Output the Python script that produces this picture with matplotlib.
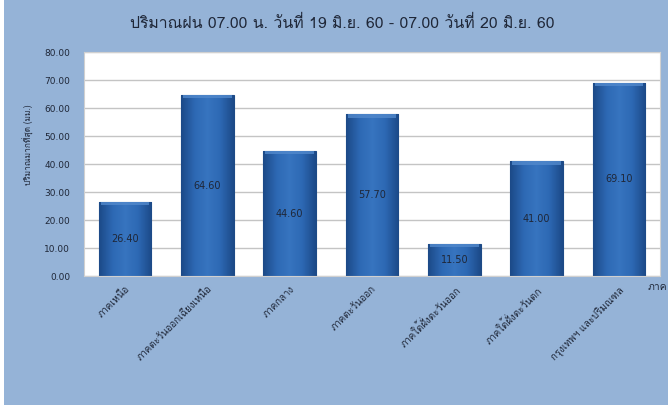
import numpy as np
import matplotlib
matplotlib.use("Agg")
import matplotlib.pyplot as plt
from matplotlib import font_manager
from matplotlib.colors import LinearSegmentedColormap
from fontTools.ttLib import TTFont

# ข้อมูลปริมาณฝนสูงสุดรายภาค
regions = ["ภาคเหนือ", "ภาคตะวันออกเฉียงเหนือ", "ภาคกลาง", "ภาคตะวันออก",
           "ภาคใต้ฝั่งตะวันออก", "ภาคใต้ฝั่งตะวันตก", "กรุงเทพฯ และปริมณฑล"]
rain_mm = [26.40, 64.60, 44.60, 57.70, 11.50, 41.00, 69.10]
y_ticks = [0, 10, 20, 30, 40, 50, 60, 70, 80]

title = "ปริมาณฝน 07.00 น. วันที่ 19 มิ.ย. 60 - 07.00 วันที่ 20 มิ.ย. 60"
y_label = "ปริมาณมากที่สุด (มม.)"
x_label = "ภาค"


def find_thai_font():
    # หา font ที่มีอักษรไทย (ป = U+0E1B)
    for f in font_manager.fontManager.ttflist:
        try:
            tt = TTFont(f.fname, fontNumber=0, lazy=True)
            cmap = tt.getBestCmap()
            if cmap and 0x0E1B in cmap and 0x0E34 in cmap:
                return f.name
        except Exception:
            pass
    return None


thai = find_thai_font()
families = [thai, "DejaVu Sans"] if thai else ["DejaVu Sans"]
plt.rcParams["font.family"] = families

bg = "#95b3d7"
txt = "#1f2738"

fig = plt.figure(figsize=(6.68, 4.05), dpi=100, facecolor=bg)
fig.patches.append(plt.Rectangle((0, 0), 4 / 668, 1, transform=fig.transFigure,
                                 facecolor="white", edgecolor="none", zorder=-1))
ax = fig.add_axes([84 / 668, 1 - 276 / 405, 576 / 668, 224 / 405])
ax.set_facecolor("white")

x = np.arange(len(regions))
bars = ax.bar(x, rain_mm, width=0.64, color="#2b66b1", edgecolor="#1d4a86",
              linewidth=0.8, zorder=2)

ax.set_xlim(-0.5, len(regions) - 0.5)
ax.set_ylim(0, 80)

# gradient ในแต่ละแท่ง
grad_cmap = LinearSegmentedColormap.from_list(
    "bar", ["#1c4a88", "#2d68b3", "#3775c0", "#2d68b3", "#1c4a88"])
grad = np.linspace(0, 1, 64).reshape(1, -1)
for b in bars:
    x0, w, h = b.get_x(), b.get_width(), b.get_height()
    im = ax.imshow(grad, extent=(x0, x0 + w, 0, h), cmap=grad_cmap,
                   aspect="auto", zorder=2.5, interpolation="bicubic")
    im.set_clip_path(b)
    # ขอบบนสีอ่อน
    ax.fill_between([x0 + w * 0.04, x0 + w * 0.96], h - 1.2, h,
                    color="#5289cc", alpha=0.8, zorder=2.6, linewidth=0)
ax.set_xlim(-0.5, len(regions) - 0.5)
ax.set_ylim(0, 80)

for b, v in zip(bars, rain_mm):
    ax.text(b.get_x() + b.get_width() / 2, v / 2, "%.2f" % v,
            ha="center", va="center", fontsize=7, color=txt, zorder=4,
            family=["DejaVu Sans"])

ax.set_yticks(y_ticks)
ax.set_yticklabels(["%.2f" % t for t in y_ticks], fontsize=6.5, color=txt,
                   family=["DejaVu Sans"])
ax.yaxis.grid(True, color="#c4c4c4", linewidth=1, zorder=0)
ax.set_axisbelow(True)
ax.tick_params(axis="both", length=0)
ax.tick_params(axis="y", pad=10)
ax.tick_params(axis="x", pad=6)

ax.set_xticks(x)
ax.set_xticklabels(regions, rotation=45, ha="right", rotation_mode="anchor",
                   fontsize=7, color=txt)

for s in ax.spines.values():
    s.set_color("#d0d0d0")
    s.set_linewidth(0.8)

ax.set_ylabel(y_label, fontsize=6, color=txt)
ax.yaxis.set_label_coords(-0.087, 0.585)
fig.text(0.512, 1 - 23 / 405, title, ha="center", va="center", fontsize=11.4,
         color=txt)
fig.text(648 / 668, 1 - 287 / 405, x_label, ha="left", va="center",
         fontsize=7.5, color=txt)

fig.savefig("out.png", dpi=100, facecolor=bg)
